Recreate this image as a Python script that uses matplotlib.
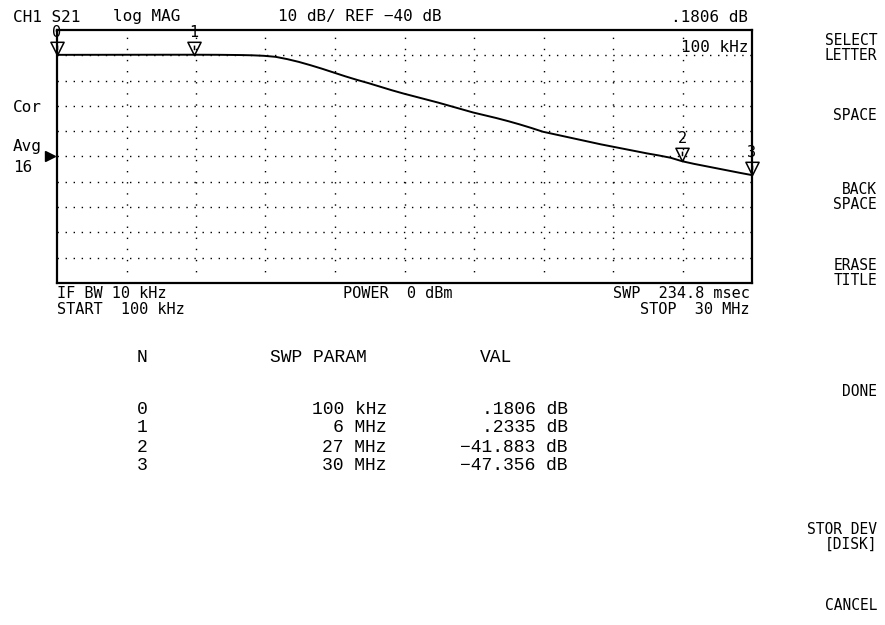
import matplotlib
matplotlib.use("Agg")
import matplotlib.pyplot as plt
from matplotlib.path import Path
from matplotlib.markers import MarkerStyle
import matplotlib.transforms as mtransforms

# ---- data ----
freq_mhz = [0.1, 1, 2, 3, 4, 5, 6, 7, 8, 8.5, 9, 9.5, 10, 10.5, 11, 11.5, 12, 12.5,
            13, 13.5, 14, 14.5, 15, 15.5, 16, 16.5, 17, 17.5, 18, 18.5, 19, 19.5,
            20, 20.5, 21, 21.5, 22, 22.5, 23, 23.5, 24, 24.5, 25, 25.5, 26, 26.5,
            27, 27.5, 28, 28.5, 29, 29.5, 30]
s21_db = [0.18, 0.19, 0.20, 0.21, 0.22, 0.23, 0.23, 0.20, 0.10, 0.0, -0.2, -0.6,
          -1.5, -2.6, -3.9, -5.3, -6.8, -8.3, -9.7, -11.0, -12.4, -13.8, -15.1,
          -16.3, -17.5, -18.7, -20.0, -21.3, -22.6, -23.7, -24.8, -26.0, -27.3,
          -28.7, -30.2, -31.2, -32.2, -33.2, -34.2, -35.2, -36.1, -37.0, -37.9,
          -38.8, -39.6, -40.5, -41.883, -42.9, -43.8, -44.7, -45.6, -46.5, -47.356]

marker_ids = ["0", "1", "2", "3"]
marker_freq = [0.1, 6, 27, 30]
marker_val = [0.1806, 0.2335, -41.883, -47.356]
marker_freq_txt = ["100 kHz", "6 MHz", "27 MHz", "30 MHz"]
marker_val_txt = [".1806 dB", ".2335 dB", "\u221241.883 dB", "\u221247.356 dB"]

ref_db = -40
scale_db = 10
f_start, f_stop = 0.1, 30

softkeys = [("SELECT\nLETTER", 48), ("SPACE", 116), ("BACK\nSPACE", 197),
            ("ERASE\nTITLE", 273), ("DONE", 392), ("STOR DEV\n[DISK]", 537),
            ("CANCEL", 605)]

# ---- figure ----
W, H = 885, 625
fig = plt.figure(figsize=(W / 100, H / 100), dpi=100)
fig.patch.set_facecolor("white")

L, R, T, B = 57, 752, 30, 283
ax = fig.add_axes([L / W, 1 - B / H, (R - L) / W, (B - T) / H])
ax.set_xlim(f_start, f_stop)
ax.set_ylim(ref_db - 5 * scale_db, ref_db + 5 * scale_db)
ax.set_xticks([])
ax.set_yticks([])
for s in ax.spines.values():
    s.set_linewidth(1.6)
    s.set_color("black")

# dotted graticule
for i in range(1, 10):
    y = ref_db - 5 * scale_db + i * scale_db
    ax.plot([f_start, f_stop], [y, y], color="black", lw=1.0,
            linestyle=(0, (1.0, 4.8)), zorder=1)
    x = f_start + i * (f_stop - f_start) / 10
    ax.plot([x, x], [ref_db - 5 * scale_db, ref_db + 5 * scale_db], color="black",
            lw=1.0, linestyle=(0, (1.0, 7.0)), zorder=1)

# trace
ax.plot(freq_mhz, s21_db, color="black", lw=1.4, zorder=3, clip_on=False)

# markers: inverted triangles with tip on the trace
tri = Path([(0, 0), (-1, 2.0), (1, 2.0), (0, 0), (0, 0.8), (0, 1.5)],
           [Path.MOVETO, Path.LINETO, Path.LINETO, Path.CLOSEPOLY, Path.MOVETO, Path.LINETO])
ax.plot(marker_freq, marker_val, linestyle="none", marker=MarkerStyle(tri),
        markersize=19, markerfacecolor="none", markeredgecolor="black",
        markeredgewidth=1.1, clip_on=False, zorder=4)
for mid, mf, mv in zip(marker_ids, marker_freq, marker_val):
    ax.annotate(mid, (mf, mv), xytext=(0, 15), textcoords="offset pixels",
                ha="center", va="bottom", fontsize=11, family="DejaVu Sans Mono",
                annotation_clip=False)

# reference position arrow
ref_tr = mtransforms.blended_transform_factory(fig.transFigure, ax.transData)
ax.plot([50 / W], [ref_db], marker=">", markersize=7, color="black",
        transform=ref_tr, clip_on=False)

mono = "DejaVu Sans Mono"


def ftext(x, y, s, ha="left", size=11.5, family=mono, **kw):
    fig.text(x / W, 1 - y / H, s, ha=ha, va="center", fontsize=size,
             family=family, **kw)


# header
ftext(13, 17, "CH1 S21")
ftext(113, 17, "log MAG")
ftext(278, 17, "10 dB/ REF \u221240 dB")
ftext(748, 17, ".1806 dB", ha="right")
ftext(748, 48, "100 kHz", ha="right")

# left annotations
ftext(13, 107, "Cor")
ftext(13, 147, "Avg")
ftext(13, 168, "16")

# footer
ftext(57, 294, "IF BW 10 kHz", size=11)
ftext(57, 310, "START  100 kHz", size=11)
ftext(343, 294, "POWER  0 dBm", size=11)
ftext(750, 294, "SWP  234.8 msec", ha="right", size=11)
ftext(750, 310, "STOP  30 MHz", ha="right", size=11)

# softkeys
for label, yc in softkeys:
    fig.text(877 / W, 1 - yc / H, label, ha="right", va="center", fontsize=10.5,
             family=mono, linespacing=1.0, multialignment="right")

# marker table
tf = "Liberation Mono"
ts = 13
ftext(137, 357, "N", family=tf, size=ts)
ftext(270, 357, "SWP PARAM", family=tf, size=ts)
ftext(480, 357, "VAL", family=tf, size=ts)
row_y = [410, 428, 447, 465]
for mid, ft, vt, ry in zip(marker_ids, marker_freq_txt, marker_val_txt, row_y):
    ftext(137, ry, mid, family=tf, size=ts)
    ftext(387, ry, ft, ha="right", family=tf, size=ts)
    ftext(568, ry, vt, ha="right", family=tf, size=ts)

fig.savefig("out.png", dpi=100, facecolor="white")
